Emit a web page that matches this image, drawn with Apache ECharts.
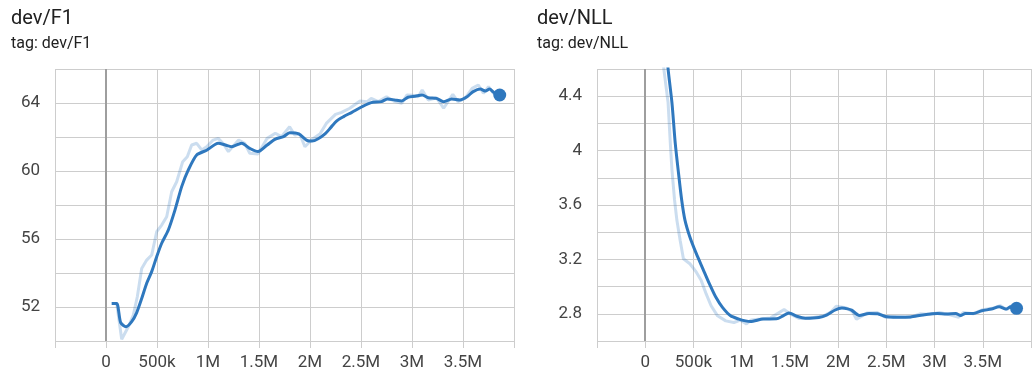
<!DOCTYPE html>
<html>
<head>
<meta charset="utf-8">
<title>dev/F1 and dev/NLL</title>
<script src="https://cdn.jsdelivr.net/npm/echarts@6/dist/echarts.min.js"></script>
<style>
  html, body { margin: 0; padding: 0; background: #ffffff; }
  #chart { width: 1034px; height: 376px; }
</style>
</head>
<body>
<div id="chart"></div>
<script>
// ---- dev/F1: [step, value] ----
const f1Raw = [
  [56e3,52.2],[105e3,52.2],[154e3,50.1],[219e3,50.84],[268e3,51.53],[307e3,52.6],[350e3,54.27],
  [399e3,54.76],[448e3,55.06],[497e3,56.43],[546e3,56.82],[595e3,57.31],[644e3,58.78],[693e3,59.37],
  [752e3,60.55],[797e3,60.84],[840e3,61.53],[889e3,61.63],[938e3,61.24],[987e3,61.43],[1.05e6,61.82],
  [1.1e6,61.92],[1.15e6,61.6],[1.2e6,61.14],[1.3e6,61.82],[1.36e6,61.63],[1.41e6,61.04],[1.49e6,61.0],
  [1.58e6,61.92],[1.66e6,62.22],[1.72e6,62.02],[1.8e6,62.6],[1.85e6,62.12],[1.9e6,62.18],[1.95e6,61.43],
  [2.02e6,61.85],[2.1e6,62.2],[2.16e6,62.8],[2.25e6,63.33],[2.31e6,63.45],[2.39e6,63.69],[2.49e6,64.12],
  [2.56e6,64.08],[2.6e6,64.27],[2.67e6,64.08],[2.75e6,64.37],[2.82e6,64.12],[2.9e6,63.98],[2.95e6,64.47],
  [3.01e6,64.45],[3.06e6,64.37],[3.1e6,64.76],[3.16e6,64.18],[3.24e6,64.31],[3.31e6,63.69],[3.4e6,64.51],
  [3.45e6,64.08],[3.52e6,64.27],[3.59e6,64.86],[3.65e6,65.06],[3.7e6,64.57],[3.75e6,64.96],[3.8e6,64.57],
  [3.86e6,64.47]
];
const f1Smooth = [
  [56e3,52.2],[105e3,52.2],[144e3,51.08],[196e3,50.84],[252e3,51.14],[300e3,51.66],[350e3,52.5],
  [399e3,53.4],[448e3,54.08],[497e3,54.96],[546e3,55.75],[611e3,56.53],[676e3,57.7],[742e3,59.08],
  [807e3,60.06],[889e3,60.94],[987e3,61.22],[1.1e6,61.63],[1.17e6,61.53],[1.23e6,61.43],[1.33e6,61.63],
  [1.41e6,61.33],[1.49e6,61.14],[1.58e6,61.53],[1.66e6,61.88],[1.74e6,62.02],[1.8e6,62.25],[1.89e6,62.18],
  [1.97e6,61.8],[2.02e6,61.76],[2.08e6,61.9],[2.15e6,62.2],[2.2e6,62.53],[2.26e6,62.94],[2.33e6,63.2],
  [2.41e6,63.45],[2.51e6,63.78],[2.6e6,64.02],[2.7e6,64.08],[2.76e6,64.24],[2.83e6,64.18],[2.9e6,64.12],
  [2.96e6,64.34],[3.03e6,64.4],[3.1e6,64.47],[3.16e6,64.31],[3.24e6,64.27],[3.31e6,64.08],[3.39e6,64.24],
  [3.47e6,64.18],[3.54e6,64.37],[3.6e6,64.67],[3.67e6,64.82],[3.72e6,64.7],[3.76e6,64.82],[3.8e6,64.63],
  [3.86e6,64.47]
];

// ---- dev/NLL: [step, value] ----
const nllRaw = [
  [56e3,6.6],[105e3,5.7],[154e3,5.05],[193e3,4.6],[237e3,4.353],[260e3,4.057],[277e3,3.859],[304e3,3.637],
  [328e3,3.489],[362e3,3.341],[396e3,3.205],[463e3,3.168],[530e3,3.106],[581e3,3.044],[632e3,2.946],
  [683e3,2.859],[750e3,2.785],[835e3,2.748],[920e3,2.736],[987e3,2.753],[1.05e6,2.726],[1.1e6,2.755],
  [1.2e6,2.762],[1.3e6,2.77],[1.44e6,2.832],[1.5e6,2.8],[1.6e6,2.765],[1.72e6,2.77],[1.85e6,2.785],
  [1.92e6,2.81],[1.98e6,2.855],[2.08e6,2.845],[2.15e6,2.815],[2.19e6,2.76],[2.3e6,2.805],[2.4e6,2.81],
  [2.5e6,2.772],[2.6e6,2.778],[2.75e6,2.775],[2.85e6,2.8],[2.95e6,2.795],[3.05e6,2.81],[3.15e6,2.795],
  [3.25e6,2.775],[3.3e6,2.81],[3.4e6,2.8],[3.5e6,2.83],[3.6e6,2.84],[3.68e6,2.86],[3.75e6,2.83],
  [3.8e6,2.86],[3.85e6,2.84]
];
const nllSmooth = [
  [56e3,6.6],[105e3,5.9],[154e3,5.3],[200e3,4.9],[237e3,4.6],[277e3,4.353],[311e3,4.057],[345e3,3.835],
  [378e3,3.637],[412e3,3.489],[463e3,3.365],[530e3,3.242],[598e3,3.131],[666e3,3.02],[733e3,2.921],
  [801e3,2.847],[885e3,2.785],[971e3,2.761],[1.04e6,2.748],[1.09e6,2.743],[1.22e6,2.761],[1.36e6,2.763],
  [1.43e6,2.785],[1.49e6,2.806],[1.58e6,2.78],[1.66e6,2.768],[1.8e6,2.773],[1.88e6,2.79],[1.97e6,2.828],
  [2.04e6,2.842],[2.1e6,2.836],[2.14e6,2.827],[2.22e6,2.788],[2.32e6,2.802],[2.41e6,2.8],[2.49e6,2.78],
  [2.61e6,2.775],[2.75e6,2.777],[2.88e6,2.792],[3.03e6,2.802],[3.12e6,2.798],[3.22e6,2.802],[3.27e6,2.787],
  [3.32e6,2.802],[3.4e6,2.802],[3.49e6,2.822],[3.59e6,2.835],[3.67e6,2.852],[3.74e6,2.835],[3.79e6,2.852],
  [3.85e6,2.84]
];

// ---- axis ticks ----
const stepTicks = { min: -5e5, max: 4e6, interval: 5e5 };
const f1Ticks = { min: 50, max: 66, interval: 2, labelEvery: 4 };
const nllTicks = { min: 2.6, max: 4.6, interval: 0.2 };

const BLUE = '#2f78be';
const GRID = '#cdcdcd';
const LABEL = '#444444';
const FONT = 'Roboto';

function stepLabel(v) {
  if (v < 0 || v >= 4e6) return '';
  if (v === 0) return '0';
  if (v < 1e6) return (v / 1e3) + 'k';
  return (v / 1e6) + 'M';
}

function xAxisFor(gridIndex) {
  return {
    type: 'value', gridIndex,
    min: stepTicks.min, max: stepTicks.max, interval: stepTicks.interval,
    axisLine: { show: false },
    axisTick: { show: true, length: 7, lineStyle: { color: GRID, width: 1 } },
    splitLine: { show: true, lineStyle: { color: GRID, width: 1 } },
    axisLabel: { margin: 13, color: LABEL, fontSize: 17, fontFamily: FONT, formatter: stepLabel, showMinLabel: true, showMaxLabel: true }
  };
}

function yAxisFor(gridIndex, t, formatter) {
  return {
    type: 'value', gridIndex,
    min: t.min, max: t.max, interval: t.interval,
    axisLine: { show: false },
    axisTick: { show: true, length: 7, lineStyle: { color: GRID, width: 1 } },
    splitLine: { show: true, lineStyle: { color: GRID, width: 1 } },
    axisLabel: { margin: 15, color: LABEL, fontSize: 17, fontFamily: FONT, formatter, showMinLabel: true, showMaxLabel: true }
  };
}

const zeroLine = {
  silent: true, symbol: ['none', 'none'],
  label: { show: false },
  lineStyle: { color: '#9e9e9e', width: 2, type: 'solid' },
  data: [{ xAxis: 0 }]
};

function seriesFor(idx, raw, smooth) {
  return [
    {
      type: 'line', xAxisIndex: idx, yAxisIndex: idx, data: raw,
      showSymbol: false, symbol: 'none', smooth: false, clip: true,
      lineStyle: { color: BLUE, width: 3, opacity: 0.25 },
      z: 2, silent: true, markLine: zeroLine
    },
    {
      type: 'line', xAxisIndex: idx, yAxisIndex: idx, data: smooth,
      showSymbol: false, symbol: 'none', smooth: 0.25, clip: true,
      lineStyle: { color: BLUE, width: 3 },
      z: 3, silent: true
    },
    {
      type: 'scatter', xAxisIndex: idx, yAxisIndex: idx,
      data: [smooth[smooth.length - 1]],
      symbolSize: 13, itemStyle: { color: BLUE, opacity: 1 }, z: 4, silent: true
    }
  ];
}

const titleStyle = { fontSize: 20, fontWeight: 'normal', color: '#212121', fontFamily: FONT };
const subStyle = { fontSize: 16, color: '#212121', fontFamily: FONT };

const chart = echarts.init(document.getElementById('chart'), null, { renderer: 'canvas' });
chart.setOption({
  animation: false,
  backgroundColor: '#ffffff',
  title: [
    { text: 'dev/F1', subtext: 'tag: dev/F1', left: 6, top: 4, itemGap: 7, textStyle: titleStyle, subtextStyle: subStyle },
    { text: 'dev/NLL', subtext: 'tag: dev/NLL', left: 532, top: 4, itemGap: 7, textStyle: titleStyle, subtextStyle: subStyle }
  ],
  grid: [
    { left: 55, right: 520, top: 69, bottom: 35, containLabel: false },
    { left: 597, right: -6, top: 69, bottom: 35, containLabel: false }
  ],
  xAxis: [xAxisFor(0), xAxisFor(1)],
  yAxis: [
    yAxisFor(0, f1Ticks, v => (Math.round(v) % f1Ticks.labelEvery === 0 ? String(Math.round(v)) : '')),
    yAxisFor(1, nllTicks, v => {
      const r = Math.round(v * 10);
      return (r - 28) % 4 === 0 ? String(r / 10) : '';
    })
  ],
  series: [].concat(seriesFor(0, f1Raw, f1Smooth), seriesFor(1, nllRaw, nllSmooth))
});
</script>
</body>
</html>
